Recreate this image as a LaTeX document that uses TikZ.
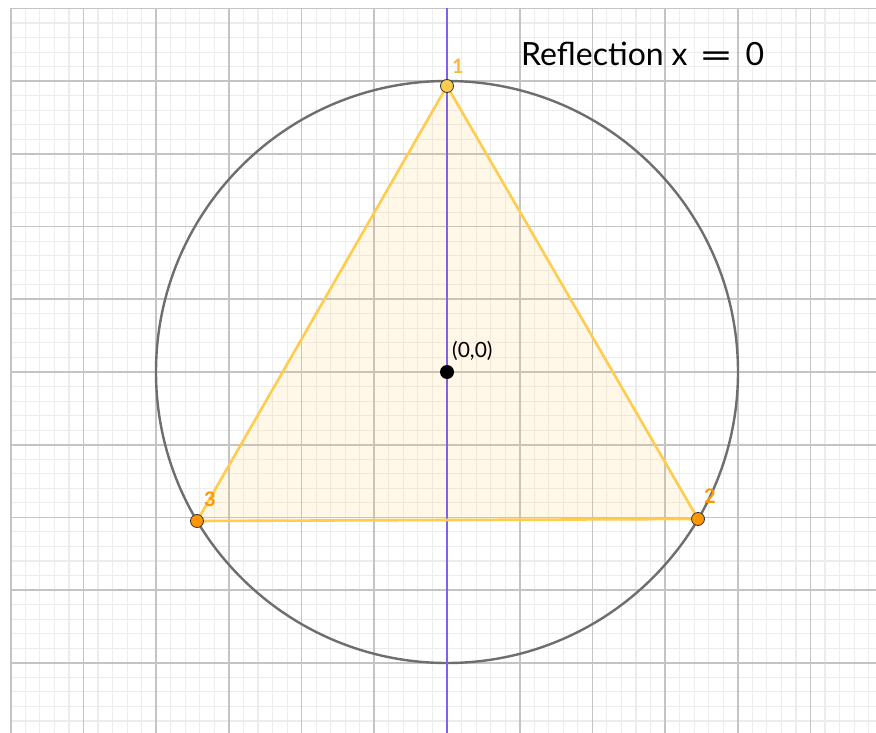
\documentclass[tikz,border=0pt]{standalone}
\usepackage{fontspec}
\setmainfont{Lato}
\newfontfamily\dejavu{DejaVu Sans}
\definecolor{gmajor}{RGB}{196,196,196}
\definecolor{gminor}{RGB}{236,236,236}
\definecolor{ggpurple}{RGB}{128,98,232}
\definecolor{triedge}{RGB}{255,204,77}
\definecolor{ptorange}{RGB}{255,150,0}
\definecolor{ptyellow}{RGB}{255,204,77}
\definecolor{lblyellow}{RGB}{250,185,60}
\definecolor{circgray}{RGB}{110,110,110}
\tikzset{
  vtx/.style={circle,draw=black!80,line width=0.8pt,minimum size=13pt,inner sep=0pt},
  lbl/.style={font=\fontsize{20}{20}\selectfont\bfseries,inner sep=0pt}
}
\begin{document}
\begin{tikzpicture}[x=1pt,y=-1pt]
\useasboundingbox (0,0) rectangle (876,733);
\fill[white] (0,0) rectangle (876,733);
\begin{scope}
\clip (10,8) rectangle (876,733);
\foreach \i in {-30,...,30} {
  \draw[gminor,line width=1.1pt] ({447+\i*14.54},8) -- ({447+\i*14.54},733);
}
\foreach \j in {-25,...,25} {
  \draw[gminor,line width=1.1pt] (10,{372+\j*14.54}) -- (876,{372+\j*14.54});
}
\foreach \i in {-6,...,6} {
  \draw[gmajor,line width=1.7pt] ({447+\i*72.7},8) -- ({447+\i*72.7},733);
}
\foreach \j in {-5,...,5} {
  \draw[gmajor,line width=1.7pt] (10,{372+\j*72.7}) -- (876,{372+\j*72.7});
}
\end{scope}
\coordinate (top) at (447,8);
\coordinate (bot) at (447,733);
\coordinate (c1) at (447,86);
\coordinate (c2) at (698,519);
\coordinate (c3) at (197,521);
\fill[triedge,fill opacity=0.12] (c1) -- (c2) -- (c3) -- cycle;
\draw[circgray,line width=2.4pt] (447,372) circle (291);
\draw[ggpurple,line width=2.4pt] (top) -- (bot);
\draw[triedge,line width=2.6pt,line join=round] (c1) -- (c2) -- (c3) -- cycle;
\node[vtx,fill=ptyellow] (p1) at (c1) {};
\node[vtx,fill=ptorange] (p2) at (c2) {};
\node[vtx,fill=ptorange] (p3) at (c3) {};
\node[circle,fill=black,minimum size=14pt,inner sep=0pt] (o) at (447,372) {};
\node[lbl,text=lblyellow] (l1) at (458,66) {1};
\node[lbl,text=ptorange] (l2) at (710,496) {2};
\node[lbl,text=ptorange] (l3) at (210,499) {3};
\node[font=\fontsize{21}{21}\selectfont,inner sep=0pt,anchor=base west] (lo) at (452,357) {(0,0)};
\node[font=\fontsize{32}{32}\selectfont,inner sep=0pt,anchor=base west] (title) at (521,66) {Reflection\hspace{8pt}x\hspace{12pt}\scalebox{1.35}[1]{\dejavu\fontsize{30}{30}\selectfont=}\hspace{12pt}0};
\end{tikzpicture}
\end{document}
